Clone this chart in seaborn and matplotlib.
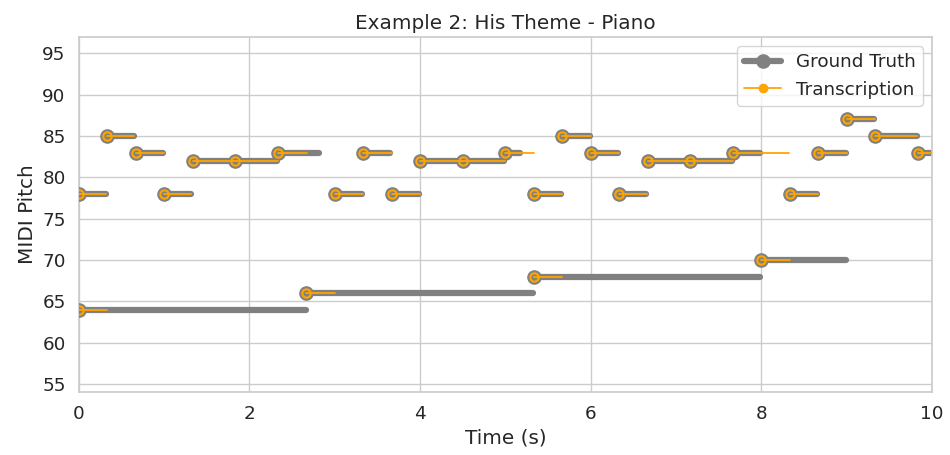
import numpy as np
import pandas as pd
import matplotlib
matplotlib.use("Agg")
import matplotlib.pyplot as plt
from matplotlib.lines import Line2D
import seaborn as sns

# Ground truth notes
gt_pitch = [78, 85, 83, 78, 82, 82, 83, 78, 83, 78, 82, 82, 83, 78, 85, 83, 78,
            82, 82, 83, 78, 83, 87, 85, 83, 64, 66, 68, 70]
gt_start = [0.0, 0.333, 0.667, 1.0, 1.333, 1.833, 2.333, 3.0, 3.333, 3.667, 4.0, 4.5,
            5.0, 5.333, 5.667, 6.0, 6.333, 6.667, 7.167, 7.667, 8.333, 8.667, 9.0,
            9.333, 9.833, 0.0, 2.667, 5.333, 8.0]
gt_end = [0.32, 0.65, 0.99, 1.32, 1.833, 2.32, 2.82, 3.32, 3.65, 3.99, 4.5, 4.98,
          5.17, 5.65, 5.99, 6.32, 6.65, 7.167, 7.66, 7.99, 8.65, 8.99, 9.32,
          9.82, 10.2, 2.66, 5.32, 7.99, 8.99]

# Transcription notes
tr_pitch = [78, 85, 83, 78, 82, 82, 83, 78, 83, 78, 82, 82, 83, 78, 85, 83, 78,
            82, 82, 83, 78, 83, 87, 85, 83, 64, 66, 68, 70]
tr_start = [0.0, 0.333, 0.667, 1.0, 1.333, 1.833, 2.333, 3.0, 3.333, 3.667, 4.0, 4.5,
            5.0, 5.333, 5.667, 6.0, 6.333, 6.667, 7.167, 7.667, 8.333, 8.667, 9.0,
            9.333, 9.833, 0.0, 2.667, 5.333, 8.0]
tr_end = [0.32, 0.65, 1.0, 1.32, 1.833, 2.33, 2.67, 3.33, 3.67, 4.0, 4.5, 4.99,
          5.33, 5.66, 6.0, 6.33, 6.66, 7.167, 7.67, 8.33, 8.66, 9.0, 9.33,
          9.83, 10.2, 0.33, 3.0, 5.667, 8.333]


def long_df(pitch, start, end):
    rows = []
    for i, (p, s, e) in enumerate(zip(pitch, start, end)):
        rows.append({"note": i, "time": s, "pitch": p})
        rows.append({"note": i, "time": e, "pitch": p})
    return pd.DataFrame(rows)


gt_df = long_df(gt_pitch, gt_start, gt_end)
tr_df = long_df(tr_pitch, tr_start, tr_end)
gt_on = pd.DataFrame({"time": gt_start, "pitch": gt_pitch})
tr_on = pd.DataFrame({"time": tr_start, "pitch": tr_pitch})

sns.set_theme(style="whitegrid", font_scale=1.2)
fig = plt.figure(figsize=(9.5, 4.55), dpi=100)
ax = fig.add_axes([0.083, 0.138, 0.898, 0.781])

gray = "#808080"
orange = "#FFA500"

sns.lineplot(data=gt_df, x="time", y="pitch", units="note", estimator=None,
             sort=False, color=gray, lw=4.5, solid_capstyle="round", ax=ax,
             legend=False, zorder=2)
ax.plot(gt_on["time"], gt_on["pitch"], ls="none", marker="o", ms=9.5,
        color=gray, zorder=3)
sns.lineplot(data=tr_df, x="time", y="pitch", units="note", estimator=None,
             sort=False, color=orange, lw=1.3, ax=ax, legend=False, zorder=4)
ax.plot(tr_on["time"], tr_on["pitch"], ls="none", marker="o", ms=6,
        mfc="none", mec=orange, mew=1.5, zorder=5)

ax.set_xlim(0, 10)
ax.set_ylim(54, 97)
ax.set_yticks(np.arange(55, 96, 5))
ax.set_xticks(np.arange(0, 11, 2))
ax.set_xlabel("Time (s)")
ax.set_ylabel("MIDI Pitch")
ax.set_title("Example 2: His Theme - Piano")

handles = [
    Line2D([0], [0], color=gray, lw=4.5, marker="o", ms=9.5, solid_capstyle="round"),
    Line2D([0], [0], color=orange, lw=1.3, marker="o", ms=6),
]
ax.legend(handles, ["Ground Truth", "Transcription"], loc="upper right")

fig.savefig("out.png", dpi=100)
